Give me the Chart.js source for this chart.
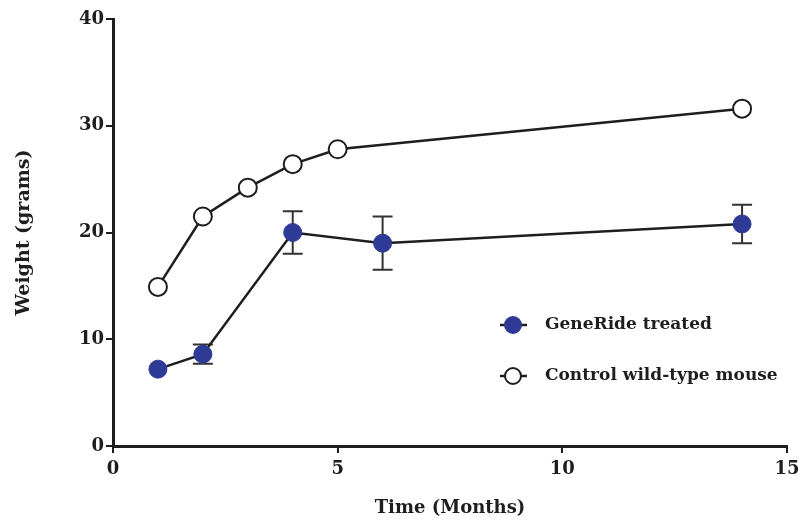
<!DOCTYPE html>
<html>
<head>
<meta charset="utf-8">
<script src="https://cdn.jsdelivr.net/npm/chart.js@4"></script>
<style>
  html, body { margin: 0; padding: 0; background: #fff; }
  #wrap { width: 803px; height: 522px; position: relative; }
</style>
</head>
<body>
<div id="wrap"><canvas id="weights"></canvas></div>
<script>
// data
const geneMonths = [1, 2, 4, 6, 14];
const geneWeight = [7.2, 8.6, 20.0, 19.0, 20.8];
const geneError = [0, 0.9, 2.0, 2.5, 1.8];

const controlMonths = [1, 2, 3, 4, 5, 14];
const controlWeight = [14.9, 21.5, 24.2, 26.4, 27.8, 31.6];

const xTicks = [0, 5, 10, 15];
const yTicks = [0, 10, 20, 30, 40];

const seriesLabels = ["GeneRide treated", "Control wild-type mouse"];

const ink = "#1e1e1e";
const blue = "#2f3a96";
const serif = "'DejaVu Serif', 'Liberation Serif', serif";

// error bars drawn under the markers
const errorBars = {
  id: "errorBars",
  beforeDatasetsDraw(chart) {
    const { ctx, scales } = chart;
    ctx.save();
    ctx.strokeStyle = "#333";
    ctx.lineWidth = 2;
    geneMonths.forEach((m, i) => {
      const e = geneError[i];
      if (!e) return;
      const x = scales.x.getPixelForValue(m);
      const top = scales.y.getPixelForValue(geneWeight[i] + e);
      const bot = scales.y.getPixelForValue(geneWeight[i] - e);
      ctx.beginPath();
      ctx.moveTo(x, top); ctx.lineTo(x, bot);
      ctx.moveTo(x - 10, top); ctx.lineTo(x + 10, top);
      ctx.moveTo(x - 10, bot); ctx.lineTo(x + 10, bot);
      ctx.stroke();
    });
    ctx.restore();
  },
};

// legend sitting inside the plot, lower right
const insideLegend = {
  id: "insideLegend",
  afterDraw(chart) {
    const { ctx } = chart;
    const rows = [325, 376];
    ctx.save();
    chart.data.datasets.forEach((ds, i) => {
      const y = rows[i];
      ctx.strokeStyle = ink;
      ctx.lineWidth = 2.5;
      ctx.beginPath();
      ctx.moveTo(500, y); ctx.lineTo(527, y);
      ctx.stroke();
      ctx.beginPath();
      ctx.arc(513, y, 8, 0, Math.PI * 2);
      ctx.fillStyle = ds.pointBackgroundColor;
      ctx.fill();
      ctx.lineWidth = 2;
      ctx.strokeStyle = ds.pointBorderColor;
      ctx.stroke();
      ctx.fillStyle = ink;
      ctx.font = "bold 17px " + serif;
      ctx.textBaseline = "middle";
      ctx.fillText(ds.label, 545, y);
    });
    ctx.restore();
  },
};

new Chart(document.getElementById("weights"), {
  type: "line",
  data: {
    datasets: [
      {
        label: seriesLabels[0],
        data: geneMonths.map((m, i) => ({ x: m, y: geneWeight[i] })),
        borderColor: ink,
        borderWidth: 2.5,
        pointRadius: 9,
        pointHoverRadius: 9,
        pointBackgroundColor: blue,
        pointBorderColor: blue,
        pointBorderWidth: 1,
        tension: 0,
      },
      {
        label: seriesLabels[1],
        data: controlMonths.map((m, i) => ({ x: m, y: controlWeight[i] })),
        borderColor: ink,
        borderWidth: 2.5,
        pointRadius: 9,
        pointHoverRadius: 9,
        pointBackgroundColor: "#ffffff",
        pointBorderColor: ink,
        pointBorderWidth: 2,
        tension: 0,
      },
    ],
  },
  options: {
    responsive: true,
    maintainAspectRatio: false,
    animation: false,
    layout: { padding: { top: 19, right: 16, left: 0, bottom: 0 } },
    plugins: {
      legend: { display: false },
      tooltip: { enabled: false },
    },
    scales: {
      x: {
        type: "linear",
        min: 0,
        max: 15,
        afterFit: (s) => { s.height = 76; s.paddingRight = 0; s.paddingLeft = 0; },
        afterBuildTicks: (s) => { s.ticks = xTicks.map((v) => ({ value: v })); },
        border: { color: ink, width: 3 },
        grid: { drawOnChartArea: false, drawTicks: true, tickLength: 7, color: ink, lineWidth: 2 },
        ticks: { color: ink, padding: 6, font: { family: serif, size: 18, weight: "bold" } },
        title: {
          display: true,
          text: "Time (Months)",
          color: ink,
          padding: { top: 6, bottom: 3 },
          font: { family: serif, size: 18, weight: "bold" },
        },
      },
      y: {
        min: 0,
        max: 40,
        afterFit: (s) => { s.width = 113; },
        afterBuildTicks: (s) => { s.ticks = yTicks.map((v) => ({ value: v })); },
        border: { color: ink, width: 3 },
        grid: { drawOnChartArea: false, drawTicks: true, tickLength: 7, color: ink, lineWidth: 2 },
        ticks: { color: ink, padding: 2, font: { family: serif, size: 18, weight: "bold" } },
        title: {
          display: true,
          text: "Weight (grams)",
          color: ink,
          padding: { top: 13, bottom: 4 },
          font: { family: serif, size: 19, weight: "bold" },
        },
      },
    },
  },
  plugins: [errorBars, insideLegend],
});
</script>
</body>
</html>
